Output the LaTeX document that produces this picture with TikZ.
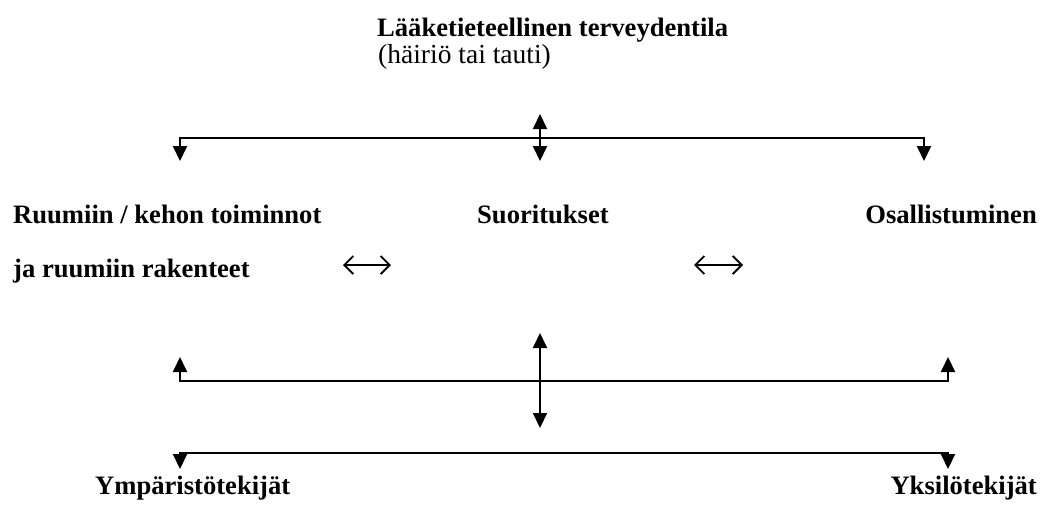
\documentclass[tikz,border=0pt]{standalone}
\usepackage{fontspec}
\setmainfont{Liberation Serif}
\usetikzlibrary{arrows.meta}
\begin{document}
\begin{tikzpicture}[x=1pt,y=-1pt,
  lbl/.style={inner sep=0pt, font=\fontsize{26.6}{32}\selectfont\bfseries},
  plain/.style={inner sep=0pt, font=\fontsize{27.5}{32}\selectfont},
  conn/.style={line width=2pt},
  tri/.style={-{Triangle[length=15pt,width=14pt]}},
  dtri/.style={{Triangle[length=15pt,width=14pt]}-{Triangle[length=15pt,width=14pt]}},
  barb/.style={line width=1.8pt, {Straight Barb[length=9pt,width=18pt]}-{Straight Barb[length=9pt,width=18pt]}}]
\useasboundingbox (0,0) rectangle (1043,515);

% texts
\node[lbl, anchor=base west] (title) at (377,36) {Lääketieteellinen terveydentila};
\node[plain, anchor=base west] (sub) at (378,63) {(häiriö tai tauti)};
\node[lbl, anchor=base west] (body1) at (13,223) {Ruumiin / kehon toiminnot};
\node[lbl, anchor=base west] (body2) at (13,277) {ja ruumiin rakenteet};
\node[lbl, anchor=base west] (suor) at (477,223) {Suoritukset};
\node[lbl, anchor=base east] (osal) at (1037,223) {Osallistuminen};
\node[lbl, anchor=base west] (ymp) at (95,494) {Ympäristötekijät};
\node[lbl, anchor=base east] (yks) at (1037,494) {Yksilötekijät};

% coordinates
\coordinate (tmid) at (540,138);
\coordinate (ttop) at (540,114);
\coordinate (tbot) at (540,161);
\coordinate (tl) at (180,161);
\coordinate (tr) at (924,161);

\coordinate (mmid) at (540,381);
\coordinate (mtop) at (540,333);
\coordinate (mbot) at (540,428);
\coordinate (ml) at (180,357);
\coordinate (mr) at (948,357);

\coordinate (bmid) at (564,453);
\coordinate (bl) at (180,469);
\coordinate (br) at (948,469);

\coordinate (a1) at (343,265);
\coordinate (a2) at (391,265);
\coordinate (a3) at (694,265);
\coordinate (a4) at (743,265);

% top
\draw[conn,tri] (tmid) -| (tl);
\draw[conn,tri] (tmid) -| (tr);
\draw[conn,dtri] (ttop) -- (tbot);

% middle
\draw[conn,tri] (mmid) -| (ml);
\draw[conn,tri] (mmid) -| (mr);
\draw[conn,dtri] (mtop) -- (mbot);

% bottom
\draw[conn,tri] (bmid) -| (bl);
\draw[conn,tri] (bmid) -| (br);

% double arrows
\draw[barb] (a1) -- (a2);
\draw[barb] (a3) -- (a4);
\end{tikzpicture}
\end{document}
